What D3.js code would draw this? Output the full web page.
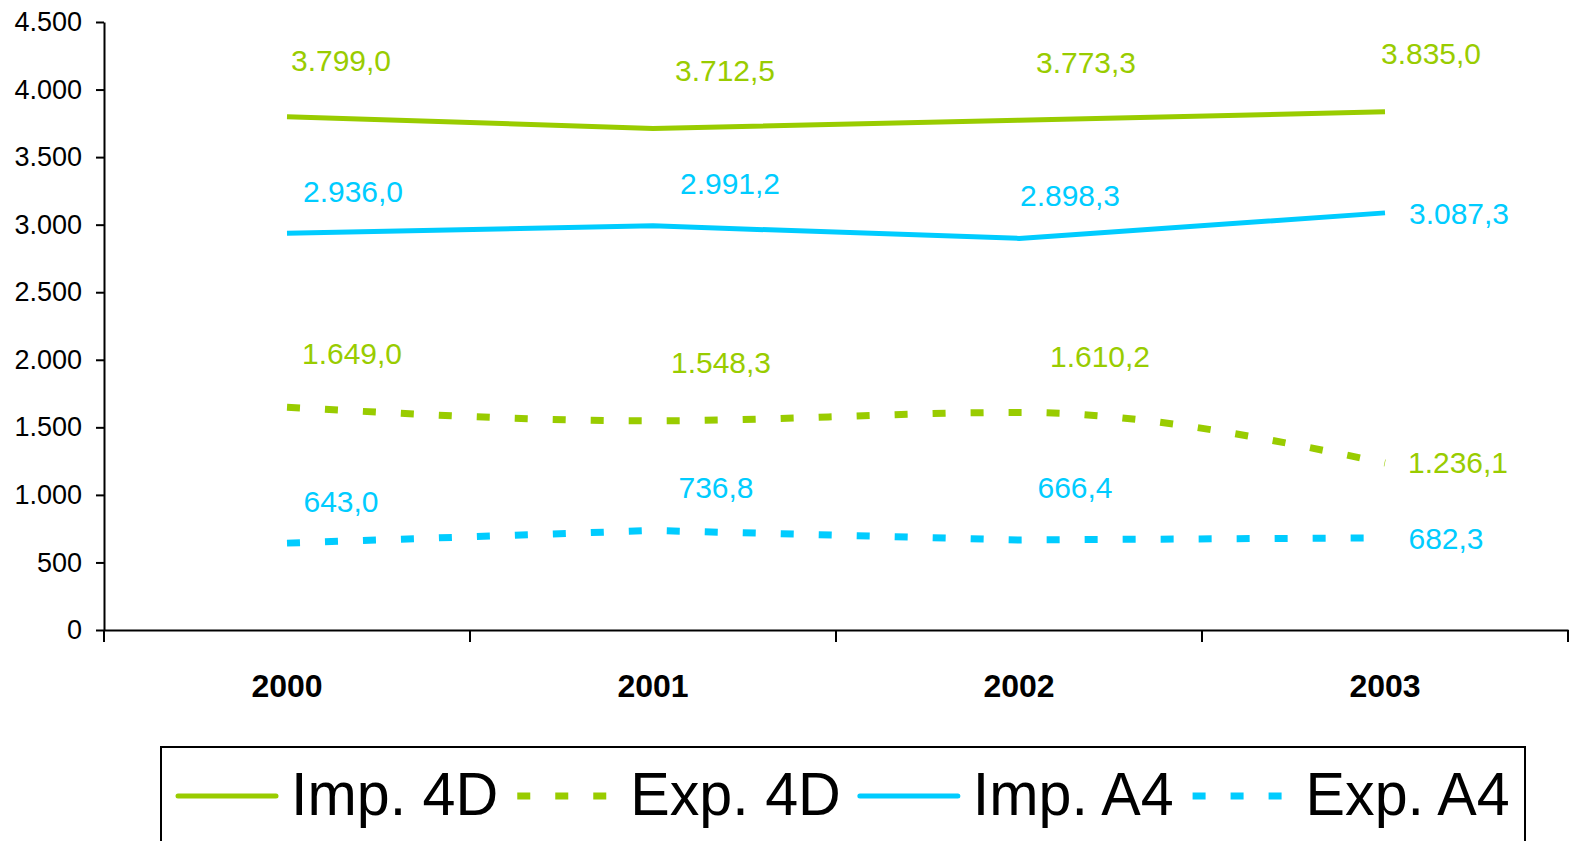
<!DOCTYPE html>
<html>
<head>
<meta charset="utf-8">
<script src="https://cdn.jsdelivr.net/npm/d3@7/dist/d3.min.js"></script>
<style>
  html, body { margin: 0; padding: 0; background: #fff; }
  svg { display: block; font-family: "Liberation Sans", Arial, sans-serif; }
</style>
</head>
<body>
<svg id="chart" width="1572" height="841"></svg>
<script>
// ---- data ----
const years = ["2000", "2001", "2002", "2003"];
const imp4D = [3799.0, 3712.5, 3773.3, 3835.0];
const exp4D = [1649.0, 1548.3, 1610.2, 1236.1];
const impA4 = [2936.0, 2991.2, 2898.3, 3087.3];
const expA4 = [643.0, 736.8, 666.4, 682.3];
const seriesNames = ["Imp. 4D", "Exp. 4D", "Imp. A4", "Exp. A4"];
const yTickValues = [0, 500, 1000, 1500, 2000, 2500, 3000, 3500, 4000, 4500];

// ---- layout / style (kept apart from data) ----
const GREEN = "#99CC00", BLUE = "#00CCFF";
const plot = { left: 104, right: 1568, top: 22, bottom: 630 };
const labelOffsets = {
  "Imp. 4D": [[54, -57], [72, -58], [67, -58], [46, -59]],
  "Exp. 4D": [[65, -54], [68, -59], [81, -56], [73, -1]],
  "Imp. A4": [[66, -42], [77, -43], [51, -43], [74, 0]],
  "Exp. A4": [[54, -42], [63, -43], [56, -53], [61, 0]]
};

const series = [
  { name: seriesNames[0], values: imp4D, color: GREEN, dashed: false, smooth: false },
  { name: seriesNames[1], values: exp4D, color: GREEN, dashed: true, smooth: true },
  { name: seriesNames[2], values: impA4, color: BLUE, dashed: false, smooth: false },
  { name: seriesNames[3], values: expA4, color: BLUE, dashed: true, smooth: false }
];

const locale = d3.formatLocale({ decimal: ",", thousands: ".", grouping: [3], currency: ["", ""] });
const fmtTick = locale.format(",");
const fmtLabel = locale.format(",.1f");

const svg = d3.select("#chart");

const x = d3.scaleBand().domain(years).range([plot.left, plot.right]).padding(0);
const y = d3.scaleLinear().domain([0, 4500]).range([plot.bottom, plot.top]);
const cx = d => x(d) + x.bandwidth() / 2;

// ---- y axis ----
const yAxis = svg.append("g")
  .attr("transform", `translate(${plot.left},0)`)
  .call(d3.axisLeft(y).tickValues(yTickValues).tickFormat(fmtTick).tickSize(8).tickSizeOuter(0).tickPadding(14));
yAxis.select(".domain").attr("stroke", "#000").attr("stroke-width", 2);
yAxis.selectAll(".tick line").attr("stroke", "#000").attr("stroke-width", 2);
yAxis.selectAll(".tick text").attr("font-size", 27).attr("fill", "#000")
  .attr("font-family", "Liberation Sans, Arial, sans-serif");

// ---- x axis ----
const xAxis = svg.append("g")
  .attr("transform", `translate(0,${plot.bottom})`)
  .call(d3.axisBottom(x).tickSize(0).tickSizeOuter(0).tickPadding(0));
xAxis.select(".domain").attr("stroke", "#000").attr("stroke-width", 2);
xAxis.selectAll(".tick text")
  .attr("y", 67).attr("dy", 0)
  .attr("font-size", 32).attr("font-weight", "bold").attr("fill", "#000")
  .attr("font-family", "Liberation Sans, Arial, sans-serif");
// boundary tick marks between categories
const boundaries = years.map(d => x(d)).concat([x.range()[1]]);
xAxis.selectAll("line.bound").data(boundaries).enter().append("line")
  .attr("class", "bound")
  .attr("x1", d => d).attr("x2", d => d)
  .attr("y1", 0).attr("y2", 12)
  .attr("stroke", "#000").attr("stroke-width", 2);

// ---- lines ----
const g = svg.append("g");
series.forEach(s => {
  const line = d3.line()
    .x((v, i) => cx(years[i]))
    .y(v => y(v))
    .curve(s.smooth ? d3.curveMonotoneX : d3.curveLinear);
  g.append("path")
    .datum(s.values)
    .attr("d", line)
    .attr("fill", "none")
    .attr("stroke", s.color)
    .attr("stroke-width", s.dashed ? 7 : 5)
    .attr("stroke-dasharray", s.dashed ? "13,25" : null)
    .attr("stroke-linejoin", "round");
});

// ---- data labels ----
series.forEach(s => {
  const offs = labelOffsets[s.name];
  g.selectAll(null).data(s.values).enter().append("text")
    .attr("x", (v, i) => cx(years[i]) + offs[i][0])
    .attr("y", (v, i) => y(v) + offs[i][1])
    .attr("dy", "0.36em")
    .attr("text-anchor", "middle")
    .attr("font-size", 30)
    .attr("fill", s.color)
    .text(v => fmtLabel(v));
});

// ---- legend ----
const legend = svg.append("g");
legend.append("rect")
  .attr("x", 161).attr("y", 747).attr("width", 1364).attr("height", 130)
  .attr("fill", "#fff").attr("stroke", "#000").attr("stroke-width", 2);
let lx = 178;
const ly = 796;
const textScale = 0.955;
series.forEach(s => {
  const sw = 98;
  legend.append("line")
    .attr("x1", lx).attr("x2", lx + sw).attr("y1", ly).attr("y2", ly)
    .attr("stroke", s.color)
    .attr("stroke-width", s.dashed ? 7 : 5)
    .attr("stroke-linecap", s.dashed ? "butt" : "round")
    .attr("stroke-dasharray", s.dashed ? "13,25" : null);
  const tx = lx + sw + 15;
  const tg = legend.append("g").attr("transform", `translate(${tx},815) scale(${textScale},1)`);
  const t = tg.append("text")
    .attr("x", 0).attr("y", 0)
    .attr("font-size", 62).attr("fill", "#000")
    .text(s.name);
  const w = t.node().getComputedTextLength() * textScale;
  lx = tx + w + 19;
});
</script>
</body>
</html>
